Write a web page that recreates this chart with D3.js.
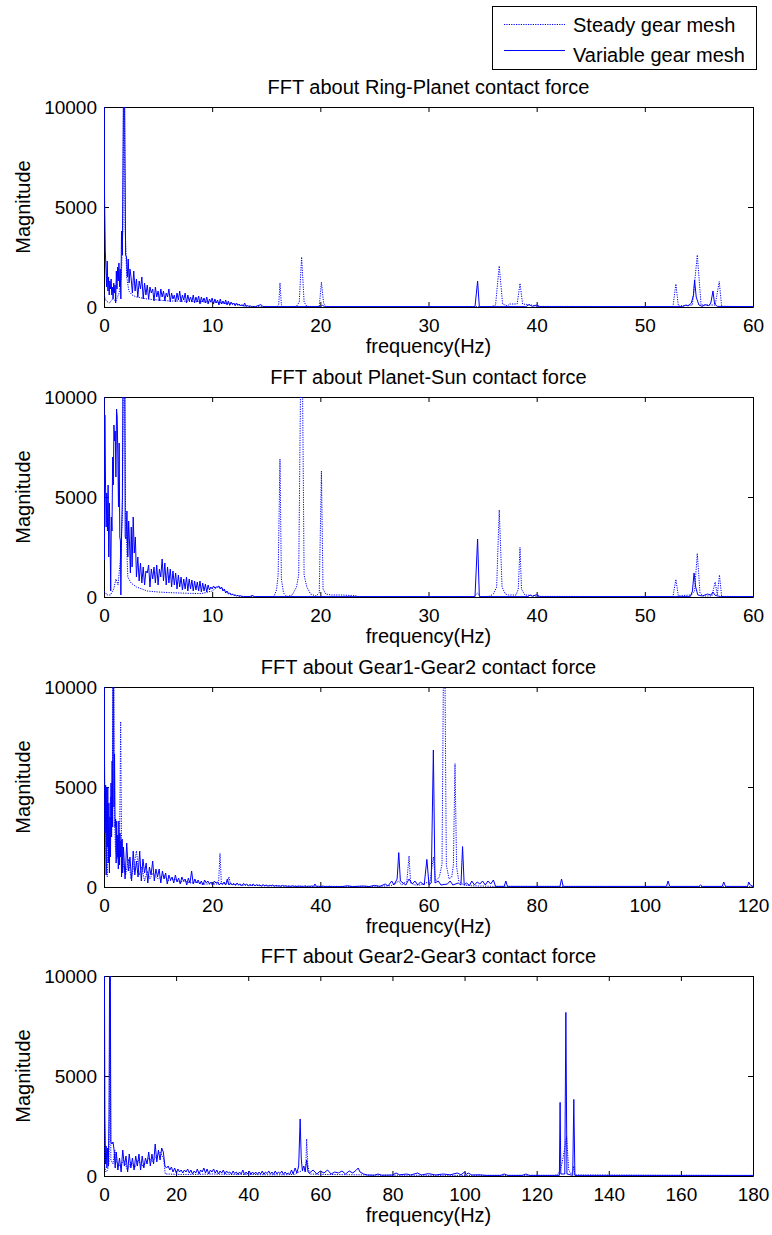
<!DOCTYPE html>
<html>
<head>
<meta charset="utf-8">
<script src="https://cdn.jsdelivr.net/npm/d3@7"></script>
<style>
  body { margin: 0; background: #fff; }
  svg { display: block; }
  text { font-family: "Liberation Sans", Arial, sans-serif; }
</style>
</head>
<body>
<div id="chart"></div>
<script>
// ---- data ----
const titles = [
    "FFT about Ring-Planet contact force",
    "FFT about Planet-Sun contact force",
    "FFT about Gear1-Gear2 contact force",
    "FFT about Gear2-Gear3 contact force",
];
const seriesNames = ["Steady gear mesh", "Variable gear mesh"];
const xLabel = "frequency(Hz)";
const yLabel = "Magnitude";
const yTicks = [0, 5000, 10000];
const xTicks60 = [0, 10, 20, 30, 40, 50, 60];
const xTicks120 = [0, 20, 40, 60, 80, 100, 120];
const xTicks180 = [0, 20, 40, 60, 80, 100, 120, 140, 160, 180];

// Ring-Planet
const rpVarHead = [[0, 16000], [0.05, 5500], [0.12, 2800], [0.18, 2000], [0.24, 1000], [0.3, 2300], [0.36, 800], [0.42, 1500], [0.48, 600], [0.54, 1300], [0.6, 900], [0.66, 1400], [0.72, 600], [0.78, 1000], [0.84, 400], [0.9, 1200], [0.96, 700], [1.02, 1100], [1.08, 200], [1.14, 1800], [1.2, 900], [1.26, 2000], [1.32, 1300], [1.38, 2200], [1.44, 1000], [1.5, 1900], [1.56, 400], [1.62, 3800], [1.7, 2600], [1.78, 9000], [1.85, 16000], [1.92, 9000], [2.0, 2600], [2.08, 2500], [2.16, 1500], [2.24, 2400], [2.32, 1200], [2.4, 1900]];
const rpVarNoise = [1500, 700, 1800, 800, 1400, 500, 1300, 900, 1500, 400, 1200, 600,
    1100, 400, 1000, 700, 900, 300, 1000, 500, 800, 300, 900, 500,
    800, 300, 700, 500, 900, 250, 700, 400, 600, 250, 700, 350,
    800, 250, 600, 350, 700, 200, 600, 300, 500, 250, 600, 200,
    500, 250, 550, 150, 500, 250, 450, 200, 500, 150, 400, 250,
    450, 150, 400, 200, 350, 100, 400, 150, 300, 150, 350, 100,
    300, 80, 250, 120, 200, 60, 200, 80, 150, 50, 120, 40,
    200, 30, 100, 30, 60, 20, 30, 20];
const rpVarTail = [[14, 20], [14.5, 120], [14.7, 20], [20, 20], [20.2, 80], [20.4, 20], [34.3, 20], [34.54, 1300], [34.7, 20], [39, 20], [39.3, 120], [39.6, 30], [40, 100], [40.3, 20], [53.5, 20], [53.8, 100], [54.0, 50], [54.3, 200], [54.5, 600], [54.6, 1350], [54.75, 500], [55.0, 100], [55.3, 30], [55.6, 120], [55.9, 60], [56.1, 200], [56.3, 800], [56.45, 150], [56.7, 30], [60, 20]];
const rpSteady = [[0, 600], [0.2, 300], [0.5, 200], [0.8, 400], [1.1, 300], [1.4, 700], [1.6, 1500], [1.75, 4000], [1.85, 16000], [1.95, 4000], [2.1, 1500], [2.3, 800], [2.6, 600], [3, 500], [4, 400], [5, 350], [6, 300], [7, 300], [8, 280], [9, 260], [10, 250], [11, 200], [12, 150], [12.5, 100], [13, 50], [13.5, 20], [16.0, 20], [16.15, 100], [16.27, 1200], [16.4, 100], [16.55, 20], [17.8, 30], [18.05, 250], [18.27, 2500], [18.5, 250], [18.75, 30], [19.9, 20], [20.1, 1240], [20.3, 200], [20.5, 20], [35.8, 20], [36.2, 100], [36.54, 2050], [36.85, 150], [37.3, 50], [37.5, 150], [38.2, 150], [38.46, 1180], [38.7, 150], [39.5, 100], [40, 30], [52.6, 20], [52.87, 1150], [53.1, 50], [54.4, 100], [54.85, 2600], [55.2, 100], [56.5, 100], [56.88, 1270], [57.1, 30], [60, 20]];

// Planet-Sun
const psVarHead = [[0, 16000], [0.04, 1850], [0.08, 9100], [0.14, 5700], [0.2, 3500], [0.26, 5200], [0.32, 3300], [0.38, 5600], [0.44, 2000], [0.5, 4700], [0.56, 3000], [0.62, 300], [0.68, 4000], [0.74, 3300], [0.8, 7000], [0.86, 5600], [0.92, 8600], [0.98, 7800], [1.04, 8300], [1.1, 6000], [1.16, 9400], [1.22, 9000], [1.28, 7000], [1.34, 4500], [1.4, 7700], [1.46, 3000], [1.52, 2800], [1.56, 100], [1.62, 3000], [1.7, 5000], [1.8, 16000], [1.9, 16000], [1.96, 3000], [2.04, 2900], [2.12, 4300], [2.2, 2000], [2.28, 3800], [2.36, 2700], [2.44, 1200], [2.52, 3500], [2.6, 1500], [2.7, 4000], [2.8, 2200], [2.9, 3000], [3.0, 1000]];
const psVarNoise = [2000, 800, 1700, 700, 1500, 600, 1300, 1200, 1600, 500, 1400, 900,
    1500, 700, 1600, 600, 1400, 1000, 1900, 800, 1700, 600, 1500, 700,
    1400, 500, 1300, 600, 1200, 400, 1100, 500, 1000, 350, 900, 400,
    1000, 300, 900, 400, 850, 300, 800, 350, 750, 300, 800, 250,
    700, 300, 650, 250, 600, 350, 500, 400, 550, 450, 500, 500,
    550, 400, 500, 300, 400, 200, 300, 150, 200, 100, 150, 80,
    100, 50, 80, 30, 60, 20, 20];
const psVarTail = [[13.5, 20], [13.7, 80], [13.9, 20], [34.3, 20], [34.54, 2900], [34.7, 20], [39.2, 20], [39.4, 100], [39.6, 30], [40, 120], [40.3, 20], [54.2, 20], [54.4, 300], [54.55, 1200], [54.7, 500], [54.9, 100], [55.3, 50], [55.8, 150], [56.1, 100], [56.3, 250], [56.5, 80], [57, 20], [60, 20]];
const psSteady = [[0, 300], [0.3, 100], [0.6, 100], [0.9, 400], [1.1, 900], [1.3, 600], [1.5, 1800], [1.7, 4000], [1.85, 16000], [2.0, 4000], [2.2, 1000], [2.5, 700], [3, 500], [4, 300], [5, 250], [6, 220], [7, 200], [8, 180], [9, 170], [10, 300], [10.5, 500], [11, 400], [11.5, 200], [12, 100], [13, 20], [15.7, 20], [15.95, 350], [16.1, 1100], [16.27, 6900], [16.4, 900], [16.6, 200], [16.9, 20], [17.4, 100], [17.8, 500], [18.0, 1100], [18.27, 16000], [18.5, 1100], [18.75, 500], [19.1, 150], [19.6, 50], [19.9, 200], [20.1, 6300], [20.25, 400], [20.5, 150], [21, 100], [22, 100], [23.3, 60], [23.5, 20], [34.2, 20], [34.54, 200], [34.8, 20], [35.6, 30], [36.0, 150], [36.3, 500], [36.54, 4350], [36.8, 500], [37.1, 150], [37.4, 100], [38.1, 100], [38.3, 400], [38.46, 2480], [38.6, 400], [38.9, 100], [39.5, 80], [40, 30], [52.6, 20], [52.87, 880], [53.1, 50], [53.6, 80], [54.3, 100], [54.6, 300], [54.85, 2180], [55.1, 200], [55.4, 50], [56.2, 50], [56.5, 750], [56.7, 100], [56.9, 1100], [57.1, 30], [60, 20]];

// Gear1-Gear2
const ggVarHead = [[0, 16000], [0.1, 6100], [0.2, 2700], [0.3, 5100], [0.4, 600], [0.5, 5000], [0.6, 2000], [0.7, 5000], [0.8, 1200], [0.9, 4200], [1.0, 700], [1.1, 3500], [1.2, 1500], [1.3, 5200], [1.4, 2500], [1.5, 6300], [1.6, 3000], [1.72, 16000], [1.85, 4000], [1.95, 6650], [2.05, 3000], [2.15, 3400], [2.25, 1200], [2.35, 3300], [2.45, 1500], [2.55, 2600], [2.65, 900], [2.75, 3300], [2.85, 1100], [2.95, 2700], [3.05, 1500], [3.15, 2300], [3.25, 500], [3.35, 2400], [3.45, 700]];
const ggVarNoise = [2000, 400, 2200, 800, 1500, 300, 1800, 600, 1300, 500, 1800, 300, 1400, 700, 1200, 200, 1000, 600, 1300, 300, 900, 500,
    900, 200, 800, 400, 700, 150, 600, 350, 500, 200, 600, 250, 450, 150, 500, 300, 400, 100, 450, 200, 800, 150,
    400, 200, 350, 150, 300, 100, 350, 200, 300, 150, 250, 100, 300, 200, 250, 100, 200, 120, 250, 100, 400, 100,
    200, 100, 180, 80, 200, 120, 150, 60, 180, 100, 150, 60, 120, 80, 150, 50, 120, 80, 100, 40, 120, 60,
    100, 40, 80, 60, 100, 30, 80, 50, 60, 30, 80, 40, 60, 30, 50, 20, 60, 30, 40, 20, 50, 30,
    40, 20, 60, 20, 40, 30, 50, 20, 150, 20, 40, 20, 30, 50, 20, 30, 20, 40, 20, 30, 20, 20];
const ggVarTail = [[44, 20], [45, 60], [46, 20], [48, 50], [49, 20], [50, 80], [51, 30], [52, 150], [52.5, 50], [53.2, 300], [53.6, 100], [54.2, 400], [54.5, 1720], [54.8, 300], [55.3, 200], [55.8, 100], [56.4, 400], [57, 150], [57.5, 300], [58, 100], [58.5, 250], [59.2, 100], [59.7, 1380], [60.1, 100], [60.5, 200], [60.9, 6850], [61.2, 200], [61.8, 300], [62.3, 100], [63.5, 150], [64, 300], [64.5, 100], [65.5, 200], [66.0, 100], [66.3, 2020], [66.6, 100], [67, 200], [67.6, 80], [68, 300], [68.5, 100], [69, 250], [69.5, 150], [70, 300], [70.5, 100], [71, 300], [71.5, 150], [72, 350], [72.4, 30], [74, 30], [74.3, 300], [74.6, 30], [84.3, 30], [84.6, 400], [84.9, 30], [104, 30], [104.3, 300], [104.6, 30], [110, 30], [110.3, 100], [110.6, 30], [114.3, 30], [114.6, 250], [114.9, 30], [119, 30], [119.2, 250], [119.5, 100], [120, 30]];
const ggSteady = [[0, 3000], [0.2, 5000], [0.4, 1500], [0.6, 500], [0.8, 3000], [1.0, 1800], [1.2, 4500], [1.4, 2500], [1.55, 5000], [1.72, 16000], [1.9, 4000], [2.1, 2000], [2.4, 1400], [2.7, 2000], [2.9, 2500], [3.08, 8270], [3.25, 2000], [3.5, 1200], [4, 600], [4.5, 1400], [5, 400], [5.5, 1000], [6, 1800], [6.5, 600], [7, 1000], [7.5, 300], [8, 800], [8.5, 400], [9, 700], [10, 400], [11, 600], [12, 300], [13, 400], [14, 250], [15, 300], [16, 200], [17, 250], [18, 150], [19, 150], [20, 150], [21, 150], [21.2, 300], [21.45, 1680], [21.7, 200], [22, 150], [22.8, 200], [23.1, 500], [23.4, 150], [25, 100], [30, 60], [35, 40], [40, 30], [45, 30], [50, 30], [53, 60], [54, 200], [54.5, 300], [55, 100], [56, 300], [56.4, 1550], [56.7, 200], [57.5, 100], [58.5, 100], [59.5, 200], [60.3, 300], [60.9, 1500], [61.3, 300], [62.0, 500], [62.5, 1130], [62.9, 16000], [63.3, 1100], [63.8, 400], [64.3, 500], [64.6, 1100], [64.9, 6170], [65.2, 1000], [65.6, 300], [66.5, 100], [68, 60], [72, 30], [120, 20]];

// Gear2-Gear3
const g23VarHead = [[0, 16000], [0.25, 3000], [0.45, 600], [0.6, 1500], [0.8, 400], [1.0, 1400], [1.2, 500], [1.4, 3000], [1.66, 16000], [1.9, 1700], [2.2, 1600], [2.5, 1700], [2.8, 1300], [3.1, 400]];
const g23VarNoise = [1200, 300, 900, 200, 1300, 500, 1000, 200, 1100, 400, 900, 300, 1000, 500, 1100, 300, 1000, 400, 900, 600, 1200, 500,
    1100, 600, 1600, 700, 1300, 800, 1400, 1200, 500, 400, 500, 300, 450, 200, 400, 150, 350, 200, 300, 150, 300, 200,
    350, 150, 300, 100, 250, 150, 350, 100, 300, 200, 400, 150, 350, 100, 300, 200, 350, 150, 300, 100, 250, 150,
    300, 100, 250, 150, 200, 80, 250, 120, 200, 80, 200, 100, 300, 80, 200, 100, 250, 80, 200, 100, 200, 80,
    200, 100, 250, 80, 200, 120, 250, 100, 200, 80, 250, 100, 200, 120, 250, 80, 200, 100, 150, 80, 300, 100];
const g23VarTail = [[53, 400], [53.5, 150], [54.0, 500], [54.4, 2850], [54.7, 900], [55.0, 300], [55.4, 500], [55.8, 200], [56.2, 800], [56.6, 200], [57, 150], [58, 300], [59, 100], [60, 250], [61, 150], [62, 300], [63, 100], [64, 200], [65, 150], [66, 250], [67, 100], [68, 250], [69, 150], [70, 300], [70.5, 400], [71, 200], [72, 100], [73, 50], [75, 40], [76, 100], [77, 40], [80, 50], [81, 150], [82, 60], [84, 100], [85, 50], [87, 150], [88, 50], [90, 120], [92, 50], [94, 100], [96, 60], [98, 150], [99, 60], [100, 200], [100.5, 80], [101, 150], [102, 50], [104, 60], [106, 30], [110, 30], [111, 100], [112, 30], [116, 30], [117, 100], [118, 30], [126.3, 30], [126.5, 3680], [126.7, 100], [127.8, 100], [128.1, 8180], [128.4, 100], [130, 30], [130.3, 3830], [130.6, 30], [180, 30]];
const g23Steady = [[0, 3000], [0.2, 500], [0.5, 200], [1, 300], [1.4, 700], [1.66, 10500], [1.9, 800], [2.5, 600], [3, 1300], [3.5, 700], [4.5, 500], [5.5, 800], [6.5, 300], [7.5, 700], [8.5, 400], [9.5, 800], [10.5, 500], [11.5, 600], [12.5, 900], [13.5, 700], [14.5, 1000], [15.5, 1200], [16.5, 900], [17, 100], [18, 100], [20, 80], [25, 80], [30, 100], [35, 80], [40, 80], [45, 60], [50, 60], [53, 80], [54, 200], [55.5, 300], [56.0, 600], [56.2, 1850], [56.5, 600], [57, 100], [60, 80], [70, 60], [75, 40], [100, 30], [125, 30], [126, 100], [126.5, 300], [127, 600], [127.6, 1200], [128.3, 1970], [128.9, 300], [129.5, 100], [130, 200], [130.3, 500], [130.6, 50], [180, 20]];

// FFT bins on a regular frequency grid
function bins(start, step, mags) {
    return mags.map((m, i) => [start + i * step, m]);
}

const panels = [
    { title: titles[0], xMax: 60, xTicks: xTicks60, steady: rpSteady,
      variable: rpVarHead.concat(bins(2.5, 0.125, rpVarNoise), rpVarTail) },
    { title: titles[1], xMax: 60, xTicks: xTicks60, steady: psSteady,
      variable: psVarHead.concat(bins(3.125, 0.125, psVarNoise), psVarTail) },
    { title: titles[2], xMax: 120, xTicks: xTicks120, steady: ggSteady,
      variable: ggVarHead.concat(bins(3.6, 0.3, ggVarNoise), ggVarTail) },
    { title: titles[3], xMax: 180, xTicks: xTicks180, steady: g23Steady,
      variable: g23VarHead.concat(bins(3.4, 0.45, g23VarNoise), g23VarTail) },
];

// ---- layout ----
const W = 772, H = 1235;
const left = 104, plotW = 649, plotH = 200;
const tops = [107, 397, 687, 976];
const FONT = "Liberation Sans, Arial, sans-serif";
const FS = 20;      // titles, labels, legend
const FS_TICK = 19; // tick labels
const BLUE = "#0000ff";
const DOTS = "1.2,1.2";

const svg = d3.select("#chart").append("svg")
    .attr("width", W)
    .attr("height", H);

panels.forEach(function (p, i) {
    const g = svg.append("g")
        .attr("transform", "translate(" + left + "," + tops[i] + ")");

    const x = d3.scaleLinear().domain([0, p.xMax]).range([0, plotW]);
    const y = d3.scaleLinear().domain([0, 10000]).range([plotH, 0]);

    g.append("clipPath")
        .attr("id", "clip" + i)
        .append("rect")
        .attr("width", plotW)
        .attr("height", plotH);

    // axes: ticks inward on all four sides
    const axB = g.append("g")
        .attr("transform", "translate(0," + plotH + ")")
        .call(d3.axisBottom(x).tickValues(p.xTicks).tickSize(-5).tickSizeOuter(0).tickPadding(12).tickFormat(d3.format("d")));
    const axL = g.append("g")
        .call(d3.axisLeft(y).tickValues(yTicks).tickSize(-5).tickSizeOuter(0).tickPadding(7).tickFormat(d3.format("d")));
    g.append("g")
        .call(d3.axisTop(x).tickValues(p.xTicks).tickSize(-5).tickSizeOuter(0).tickFormat(""));
    g.append("g")
        .attr("transform", "translate(" + plotW + ",0)")
        .call(d3.axisRight(y).tickValues(yTicks).tickSize(-5).tickSizeOuter(0).tickFormat(""));

    [axB, axL].forEach(a => a.attr("font-size", FS_TICK).attr("font-family", FONT));
    g.selectAll(".tick text").attr("fill", "#000");

    // data
    const line = d3.line()
        .x(d => x(d[0]))
        .y(d => y(d[1]));

    const plot = g.append("g").attr("clip-path", "url(#clip" + i + ")");

    plot.append("path")
        .datum(p.steady)
        .attr("d", line)
        .attr("fill", "none")
        .attr("stroke", BLUE)
        .attr("stroke-width", 1)
        .attr("stroke-dasharray", DOTS);

    plot.append("path")
        .datum(p.variable)
        .attr("d", line)
        .attr("fill", "none")
        .attr("stroke", BLUE)
        .attr("stroke-width", 1);

    // labels
    g.append("text")
        .text(p.title)
        .attr("x", plotW / 2)
        .attr("y", -13)
        .attr("text-anchor", "middle")
        .style("font-size", FS + "px");

    g.append("text")
        .text(xLabel)
        .attr("x", plotW / 2)
        .attr("y", plotH + 46)
        .attr("text-anchor", "middle")
        .style("font-size", FS + "px");

    g.append("text")
        .text(yLabel)
        .attr("transform", "translate(" + (30 - left) + "," + plotH / 2 + ") rotate(-90)")
        .attr("text-anchor", "middle")
        .style("font-size", FS + "px");
});

// ---- legend ----
const legend = svg.append("g").attr("transform", "translate(492,6)");
legend.append("rect")
    .attr("x", 0.5)
    .attr("y", 0.5)
    .attr("width", 264)
    .attr("height", 63)
    .attr("fill", "#fff")
    .attr("stroke", "#000");

const legendRows = [
    { name: seriesNames[0], dash: DOTS, ly: 18.5, ty: 26 },
    { name: seriesNames[1], dash: null, ly: 44.5, ty: 56 },
];
legendRows.forEach(function (r) {
    legend.append("line")
        .attr("x1", 12)
        .attr("x2", 73)
        .attr("y1", r.ly)
        .attr("y2", r.ly)
        .attr("stroke", BLUE)
        .attr("stroke-width", 1)
        .attr("stroke-dasharray", r.dash);
    legend.append("text")
        .text(r.name)
        .attr("x", 81)
        .attr("y", r.ty)
        .style("font-size", FS + "px");
});
</script>
</body>
</html>
